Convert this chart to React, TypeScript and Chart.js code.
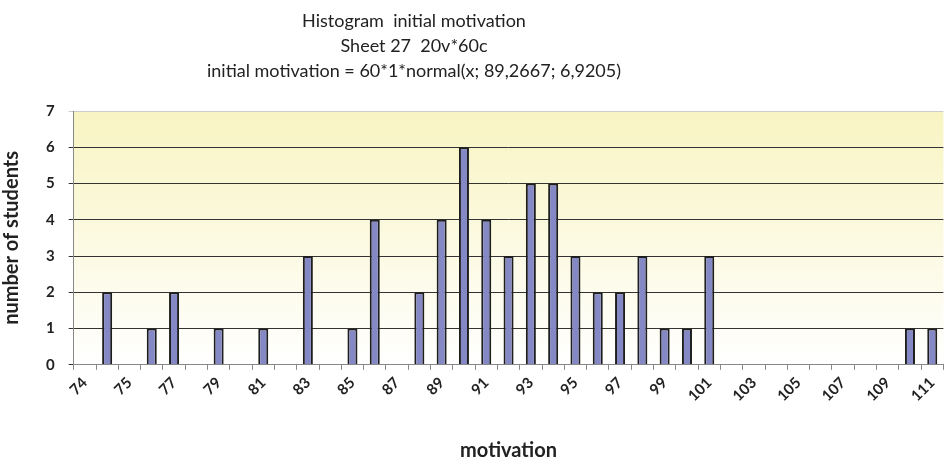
import React, { useEffect, useRef } from "react";
import { Chart, registerables } from "chart.js";

Chart.register(...registerables);

const titleLines = [
  "Histogram  initial motivation",
  "Sheet 27  20v*60c",
  "initial motivation = 60*1*normal(x; 89,2667; 6,9205)",
];

const categories = [
  "74", "74", "75", "76", "77", "78", "79", "80", "81", "82",
  "83", "84", "85", "86", "87", "88", "89", "90", "91", "92",
  "93", "94", "95", "96", "97", "98", "99", "100", "101", "102",
  "103", "104", "105", "106", "107", "108", "109", "110", "111",
];

const counts = [
  0, 2, 0, 1, 2, 0, 1, 0, 1, 0,
  3, 0, 1, 4, 0, 2, 4, 6, 4, 3,
  5, 5, 3, 2, 2, 3, 1, 1, 3, 0,
  0, 0, 0, 0, 0, 0, 0, 1, 1,
];

const yTicks = [0, 1, 2, 3, 4, 5, 6, 7];

const FONT = "Lato, 'Open Sans', sans-serif";

const bgPlugin = {
  id: "plotBg",
  beforeDraw(chart: any) {
    const { ctx, chartArea } = chart;
    if (!chartArea) return;
    const g = ctx.createLinearGradient(0, chartArea.top, 0, chartArea.bottom);
    g.addColorStop(0, "#f8f4c2");
    g.addColorStop(1, "#ffffff");
    ctx.save();
    ctx.fillStyle = g;
    ctx.fillRect(chartArea.left, chartArea.top, chartArea.right - chartArea.left, chartArea.bottom - chartArea.top);
    ctx.restore();
  },
};

const titlePlugin = {
  id: "customTitle",
  afterDraw(chart: any) {
    const { ctx } = chart;
    ctx.save();
    ctx.fillStyle = "#222222";
    ctx.font = `18px ${FONT}`;
    ctx.textAlign = "center";
    ctx.textBaseline = "middle";
    titleLines.forEach((line, i) => {
      ctx.fillText(line, 414, 21 + i * 25);
    });
    ctx.restore();
  },
};

export default function App() {
  const ref = useRef<HTMLCanvasElement | null>(null);

  useEffect(() => {
    document.body.style.margin = "0";
    if (!ref.current) return;
    const chart = new Chart(ref.current, {
      type: "bar",
      data: {
        labels: categories,
        datasets: [
          {
            data: counts,
            backgroundColor: "#8488c4",
            borderColor: "#1e1e1e",
            borderWidth: 2,
            barPercentage: 0.45,
            categoryPercentage: 1,
          },
        ],
      },
      options: {
        animation: false,
        responsive: false,
        layout: { padding: { top: 111, right: 1, left: 0, bottom: 12 } },
        plugins: {
          legend: { display: false },
          title: { display: false },
          tooltip: { enabled: false },
        },
        scales: {
          x: {
            offset: true,
            grid: {
              offset: true,
              drawOnChartArea: false,
              drawTicks: true,
              tickLength: 5,
              color: "#888888",
            },
            border: { color: "#888888", width: 1 },
            ticks: {
              autoSkip: false,
              maxRotation: 45,
              minRotation: 45,
              color: "#222222",
              font: { family: FONT, size: 15, weight: "bold" },
              padding: 4,
              callback: (_v: any, i: number) => (i % 2 === 0 ? categories[i] : ""),
            },
            title: {
              display: true,
              text: "motivation",
              color: "#222222",
              font: { family: FONT, size: 20, weight: "bold" },
              padding: { top: 30, bottom: 0 },
            },
          },
          y: {
            min: 0,
            max: 7,
            afterBuildTicks: (axis: any) => {
              axis.ticks = yTicks.map((v) => ({ value: v }));
            },
            grid: {
              color: (c: any) => (c.tick && c.tick.value === 7 ? "#cccccc" : "#333333"),
              lineWidth: 1,
              drawTicks: true,
              tickLength: 5,
            },
            border: { color: "#888888", width: 1 },
            ticks: {
              color: "#222222",
              font: { family: FONT, size: 15, weight: "bold" },
              padding: 14,
            },
            title: {
              display: true,
              text: "number of students",
              color: "#222222",
              font: { family: FONT, size: 20, weight: "bold" },
              padding: { top: 0, bottom: 8 },
            },
          },
        },
      },
      plugins: [bgPlugin, titlePlugin],
    });
    return () => chart.destroy();
  }, []);

  return (
    <div style={{ position: "fixed", left: 0, top: 0, width: 949, height: 475 }}>
      <canvas ref={ref} width={949} height={475} />
    </div>
  );
}
